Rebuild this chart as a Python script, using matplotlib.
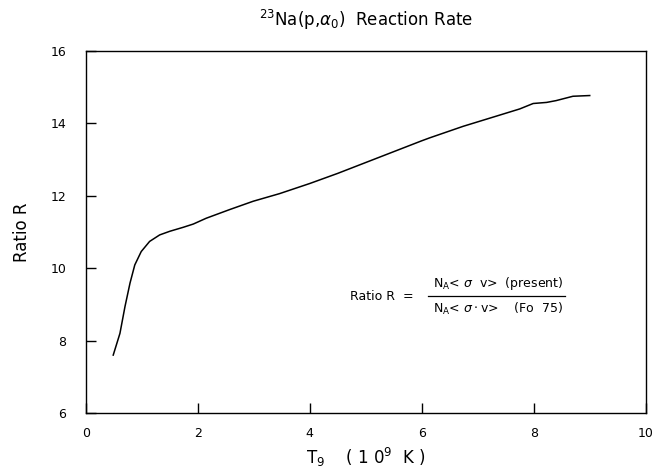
#############################
# 23Na(p,alpha0) reaction rate
# ratio plot
#############################
import matplotlib
matplotlib.use("Agg")
import matplotlib.pyplot as plt
from matplotlib.lines import Line2D

# Temperature T9 (10^9 K)
t9 = [0.49, 0.61, 0.70, 0.79, 0.875, 0.99, 1.14, 1.32, 1.50, 1.74, 1.92, 2.15,
      2.57, 2.99, 3.46, 4.0, 4.5, 5.0, 5.5, 6.0, 6.14, 6.74, 7.33, 7.75, 7.99,
      8.23, 8.40, 8.70, 9.0]

# Ratio R (present / Fo 75)
ratio_r = [7.60, 8.20, 8.94, 9.59, 10.09, 10.46, 10.74, 10.92, 11.02, 11.13,
           11.22, 11.38, 11.62, 11.85, 12.06, 12.34, 12.62, 12.92, 13.22, 13.52,
           13.60, 13.92, 14.20, 14.40, 14.55, 14.58, 14.63, 14.75, 14.77]

x_ticks = [0, 2, 4, 6, 8, 10]
y_ticks = [6, 8, 10, 12, 14, 16]

plt.rcParams['font.family'] = ['DejaVu Sans']
plt.rcParams['mathtext.fontset'] = 'dejavusans'


#############################
# Draw the chart
#############################
def main():
  fig = plt.figure(figsize=(6.65, 4.68), dpi=100)
  ax = fig.add_axes([0.129, 0.1175, 0.842, 0.7735])

  ax.plot(t9, ratio_r, color='black', linewidth=1.1)

  ax.set_xlim(0, 10)
  ax.set_ylim(6, 16)
  ax.set_xticks(x_ticks)
  ax.set_yticks(y_ticks)
  ax.tick_params(direction='in', length=7, width=1, labelsize=9,
                 pad=10, top=False, right=False)
  ax.tick_params(axis='y', pad=14)
  for s in ax.spines.values():
    s.set_linewidth(1.0)

  ax.set_title(r'$^{23}$Na(p,$\alpha_0$)  Reaction Rate', fontsize=12, pad=18)
  ax.set_xlabel(r'T$_9$    ( 1 0$^9$  K )', fontsize=12, labelpad=4)
  ax.set_ylabel('Ratio R', fontsize=12, labelpad=14)

  # Ratio definition
  ax.text(0.471, 0.323, 'Ratio R  =', transform=ax.transAxes,
          fontsize=9, ha='left', va='center')
  ax.add_line(Line2D([0.611, 0.855], [0.323, 0.323], transform=ax.transAxes,
                     color='black', linewidth=0.9))
  ax.text(0.620, 0.359, r'N$_\mathrm{A}$< $\sigma$  v>  (present)',
          transform=ax.transAxes, fontsize=9, ha='left', va='center')
  ax.text(0.620, 0.287, r'N$_\mathrm{A}$< $\sigma\cdot$v>    (Fo  75)',
          transform=ax.transAxes, fontsize=9, ha='left', va='center')

  fig.savefig('out.png', dpi=100)


if __name__ == "__main__":
  main()
